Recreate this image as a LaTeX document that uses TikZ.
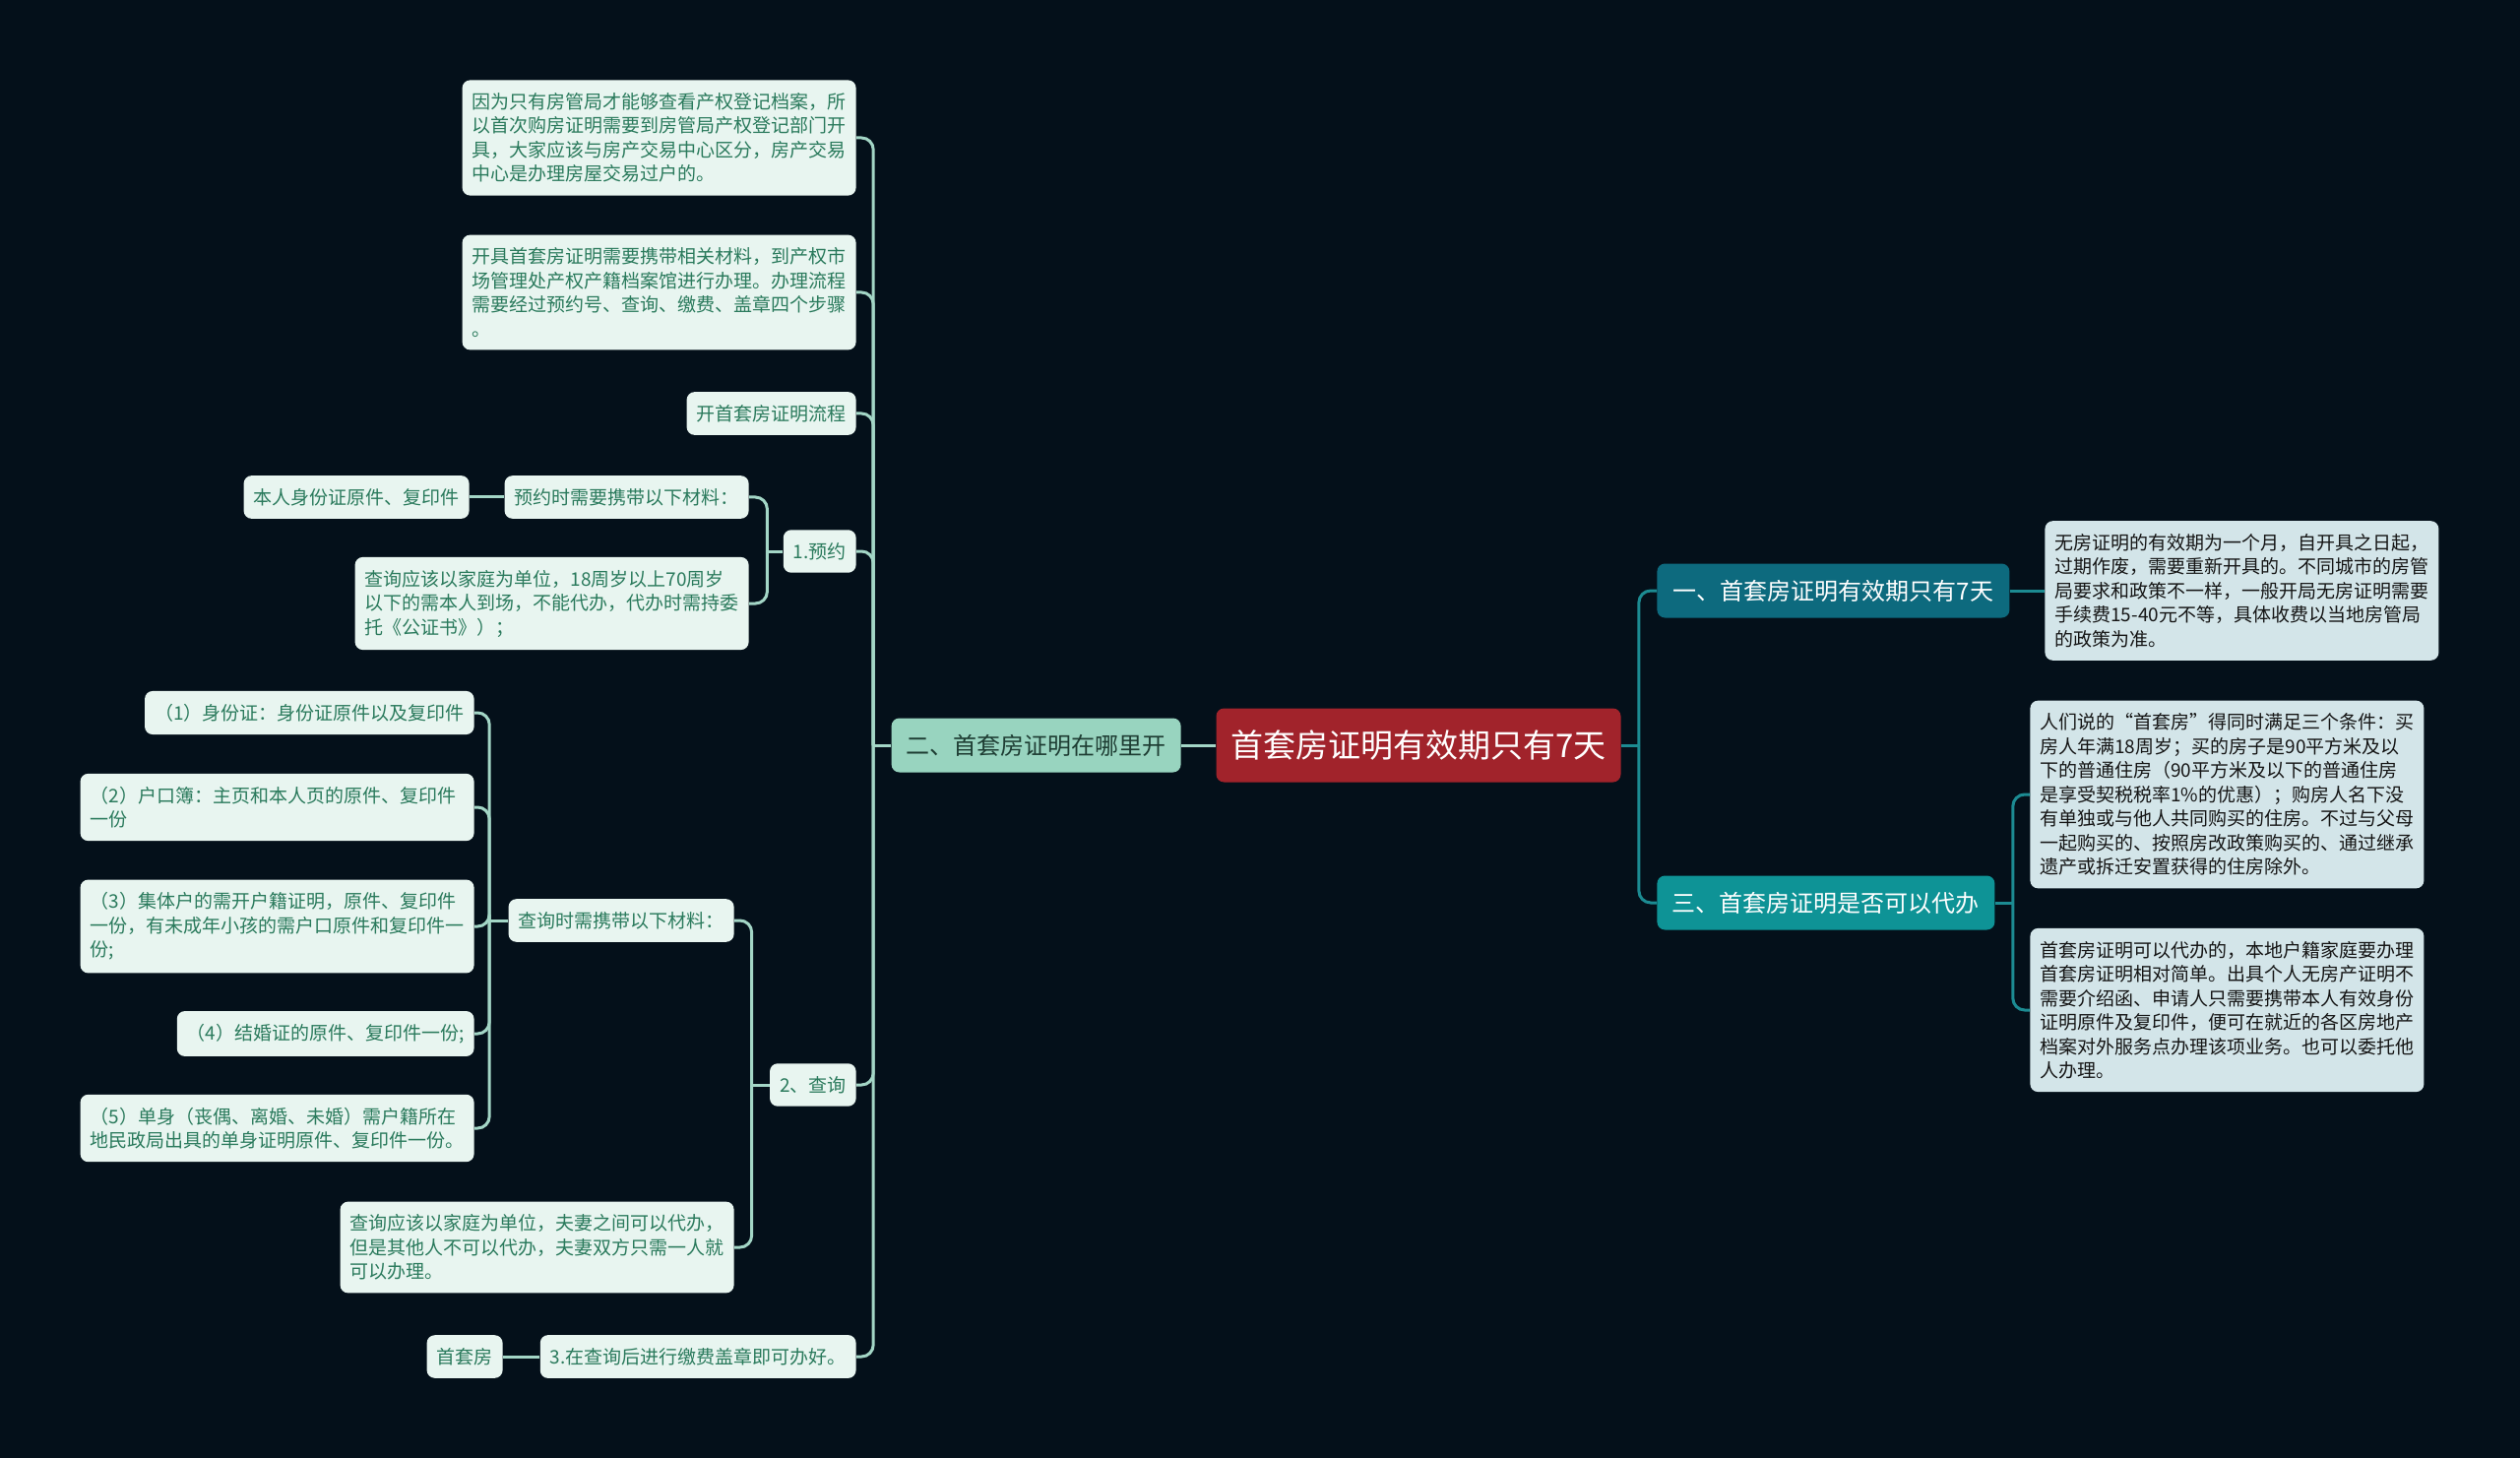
\documentclass[tikz,border=0pt]{standalone}
\usepackage{fontspec}
\setmainfont{Noto Sans CJK SC}
\usetikzlibrary{calc}
\definecolor{bgdark}{HTML}{04101A}
\definecolor{rootred}{HTML}{A1232B}
\definecolor{mainmint}{HTML}{98D4BF}
\definecolor{maindark}{HTML}{1E3D33}
\definecolor{mainteal}{HTML}{0D6A7E}
\definecolor{mainaqua}{HTML}{0E9396}
\definecolor{leafmint}{HTML}{E8F5F0}
\definecolor{leafgreen}{HTML}{2A7A5C}
\definecolor{leafblue}{HTML}{D3E5E9}
\definecolor{leafdark}{HTML}{151515}
\definecolor{linemint}{HTML}{A3D6C6}
\definecolor{lineteal}{HTML}{1C8B92}
\begin{document}
\begin{tikzpicture}[x=0.5pt,y=-0.5pt,
    box/.style={rounded corners=4pt,inner xsep=5pt,inner ysep=6.5pt,minimum height=20.5pt,font=\fontsize{9.5pt}{12.25pt}\selectfont},
    leafL/.style={box,fill=leafmint,text=leafgreen},
    leafR/.style={box,fill=leafblue,text=leafdark},
    para/.style={text width=190pt,align=left},
    topic/.style={rounded corners=4pt,minimum height=27.5pt,font=\fontsize{12pt}{14pt}\selectfont},
    linkL/.style={line width=1.5pt,draw=linemint,rounded corners=6pt},
    linkR/.style={line width=1.5pt,draw=lineteal,rounded corners=6pt}]
    \useasboundingbox (0,0) rectangle (2560,1481);
    \fill[bgdark] (0,0) rectangle (2560,1481);

    \node[rounded corners=4pt,fill=rootred,text=white,minimum width=205.5pt,minimum height=37.5pt,
        font=\fontsize{16.5pt}{18pt}\selectfont] (root) at (1441,757) {首套房证明有效期只有7天};

    % left branch
    \node[topic,fill=mainmint,text=maindark,minimum width=147pt,anchor=east] (where) at (1200,757) {二、首套房证明在哪里开};
    \node[leafL,para,anchor=east] (why) at (870,140) {因为只有房管局才能够查看产权登记档案，所\\以首次购房证明需要到房管局产权登记部门开\\具，大家应该与房产交易中心区分，房产交易\\中心是办理房屋交易过户的。};
    \node[leafL,para,anchor=east] (need) at (870,297) {开具首套房证明需要携带相关材料，到产权市\\场管理处产权产籍档案馆进行办理。办理流程\\需要经过预约号、查询、缴费、盖章四个步骤\\。};
    \node[leafL,anchor=east] (flow) at (870,420) {开首套房证明流程};
    \node[leafL,anchor=east] (book) at (870,560) {1.预约};
    \node[leafL,anchor=east] (bookmat) at (761,505) {预约时需要携带以下材料：};
    \node[leafL,anchor=east] (bookid) at (477,505) {本人身份证原件、复印件};
    \node[leafL,para,anchor=east] (bookrule) at (761,613) {查询应该以家庭为单位，18周岁以上70周岁\\以下的需本人到场，不能代办，代办时需持委\\托《公证书》）；};
    \node[leafL,anchor=east] (query) at (870,1102) {2、查询};
    \node[leafL,anchor=east] (querymat) at (746,935) {查询时需携带以下材料：};
    \node[leafL,anchor=east] (mat1) at (482,724) {（1）身份证：身份证原件以及复印件};
    \node[leafL,para,anchor=east] (mat2) at (482,820) {（2）户口簿：主页和本人页的原件、复印件\\一份};
    \node[leafL,para,anchor=east] (mat3) at (482,941) {（3）集体户的需开户籍证明，原件、复印件\\一份，有未成年小孩的需户口原件和复印件一\\份;};
    \node[leafL,anchor=east] (mat4) at (482,1050) {（4）结婚证的原件、复印件一份;};
    \node[leafL,para,anchor=east] (mat5) at (482,1146) {（5）单身（丧偶、离婚、未婚）需户籍所在\\地民政局出具的单身证明原件、复印件一份。};
    \node[leafL,para,anchor=east] (queryrule) at (746,1267) {查询应该以家庭为单位，夫妻之间可以代办，\\但是其他人不可以代办，夫妻双方只需一人就\\可以办理。};
    \node[leafL,anchor=east] (pay) at (870,1378) {3.在查询后进行缴费盖章即可办好。};
    \node[leafL,anchor=east] (first) at (511,1378) {首套房};

    % right branch
    \node[topic,fill=mainteal,text=white,minimum width=179pt,anchor=west] (valid) at (1683,600) {一、首套房证明有效期只有7天};
    \node[topic,fill=mainaqua,text=white,minimum width=171.5pt,anchor=west] (agent) at (1683,917) {三、首套房证明是否可以代办};
    \node[leafR,para,anchor=west] (validtxt) at (2077,600) {无房证明的有效期为一个月，自开具之日起，\\过期作废，需要重新开具的。不同城市的房管\\局要求和政策不一样，一般开局无房证明需要\\手续费15-40元不等，具体收费以当地房管局\\的政策为准。};
    \node[leafR,para,anchor=west] (cond) at (2062,807) {人们说的“首套房”得同时满足三个条件：买\\房人年满18周岁；买的房子是90平方米及以\\下的普通住房（90平方米及以下的普通住房\\是享受契税税率1\%的优惠）；购房人名下没\\有单独或与他人共同购买的住房。不过与父母\\一起购买的、按照房改政策购买的、通过继承\\遗产或拆迁安置获得的住房除外。};
    \node[leafR,para,anchor=west] (agenttxt) at (2062,1026) {首套房证明可以代办的，本地户籍家庭要办理\\首套房证明相对简单。出具个人无房产证明不\\需要介绍函、申请人只需要携带本人有效身份\\证明原件及复印件，便可在就近的各区房地产\\档案对外服务点办理该项业务。也可以委托他\\人办理。};

    % junctions
    \coordinate (whereJ) at ($(where.west)+(-18,0)$);
    \coordinate (bookJ) at ($(book.west)+(-16,0)$);
    \coordinate (queryJ) at ($(query.west)+(-18,0)$);
    \coordinate (matJ) at ($(querymat.west)+(-19,0)$);
    \coordinate (rootJ) at ($(root.east)+(18,0)$);
    \coordinate (agentJ) at ($(agent.east)+(18,0)$);

    % connectors
    \draw[linkL] (root.west) -- (where.east);
    \draw[linkL] (where.west) -- (whereJ);
    \foreach \kid in {why,need,flow,book,query,pay}
        \draw[linkL] (whereJ) |- (\kid.east);
    \draw[linkL] (book.west) -- (bookJ);
    \foreach \kid in {bookmat,bookrule}
        \draw[linkL] (bookJ) |- (\kid.east);
    \draw[linkL] (bookmat.west) -- (bookid.east);
    \draw[linkL] (query.west) -- (queryJ);
    \foreach \kid in {querymat,queryrule}
        \draw[linkL] (queryJ) |- (\kid.east);
    \draw[linkL] (querymat.west) -- (matJ);
    \foreach \kid in {mat1,mat2,mat3,mat4,mat5}
        \draw[linkL] (matJ) |- (\kid.east);
    \draw[linkL] (pay.west) -- (first.east);

    \draw[linkR] (root.east) -- (rootJ);
    \foreach \kid in {valid,agent}
        \draw[linkR] (rootJ) |- (\kid.west);
    \draw[linkR] (valid.east) -- (validtxt.west);
    \draw[linkR] (agent.east) -- (agentJ);
    \foreach \kid in {cond,agenttxt}
        \draw[linkR] (agentJ) |- (\kid.west);
\end{tikzpicture}
\end{document}
